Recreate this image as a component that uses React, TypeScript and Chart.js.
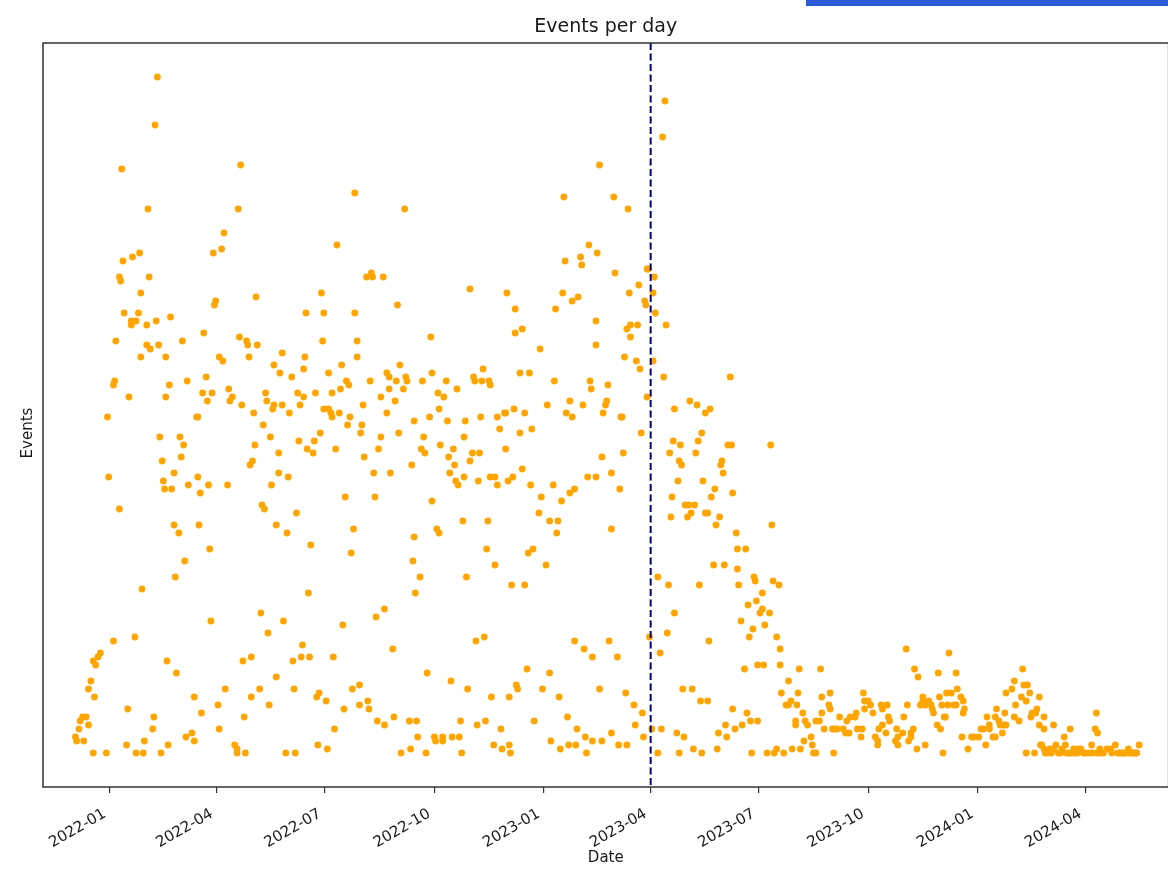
import React, { useEffect, useRef } from "react";
import { Chart, registerables } from "chart.js";

Chart.register(...registerables);

// x values are days since 2022-01-01
const tickDays = [0, 90, 181, 273, 365, 455, 546, 638, 730, 821];
const tickLabels = ["2022-01", "2022-04", "2022-07", "2022-10", "2023-01", "2023-04", "2023-07", "2023-10", "2024-01", "2024-04"];
const markerDay = 455; // 2023-04-01

const title = "Events per day";
const xTitle = "Date";
const yTitle = "Events";

// [day, events]
const late2021: [number, number][] = [
  [-2, 84], [-1, 69], [-8, 25], [-10, 24], [-14, 23], [-12, 22], [-16, 18], [-18, 16], [-13, 14], [-23, 9],
  [-20, 9], [-25, 8], [-18, 7], [-26, 6], [-29, 4], [-28, 3], [-22, 3], [-14, 0], [-3, 0],
];

const h1_2022: [number, number][] = [
  [40, 169], [38, 157], [10, 146], [32, 136], [96, 130], [87, 125], [94, 126], [11, 123], [19, 124], [25, 125],
  [8, 119], [9, 118], [33, 119], [26, 115], [89, 113], [88, 112], [12, 110], [24, 110], [18, 108], [18, 107],
  [22, 108], [31, 107], [39, 108], [51, 109], [79, 105], [5, 103], [61, 103], [31, 102], [34, 101], [41, 102],
  [26, 99], [47, 99], [92, 99], [95, 98], [4, 93], [3, 92], [50, 92], [65, 93], [81, 94], [16, 89],
  [47, 89], [78, 90], [86, 90], [82, 88], [73, 84], [74, 84], [42, 79], [59, 79], [62, 77], [44, 73],
  [60, 74], [45, 68], [54, 70], [46, 66], [52, 66], [66, 67], [74, 69], [83, 67], [76, 65], [8, 61],
  [54, 57], [75, 57], [58, 55], [84, 51], [63, 48], [55, 44], [27, 41], [85, 33], [21, 29], [3, 28],
  [48, 23], [56, 20], [97, 16], [71, 14], [91, 12], [15, 11], [77, 10], [37, 9], [36, 6], [92, 6],
  [69, 5], [64, 4], [71, 3], [14, 2], [29, 3], [49, 2], [22, 0], [28, 0], [43, 0],
  [110, 147], [108, 136], [123, 114], [178, 115], [165, 110], [180, 110], [109, 104], [115, 103], [116, 102], [124, 102],
  [117, 99], [179, 103], [145, 100], [138, 97], [143, 95], [153, 94], [164, 99], [163, 96], [100, 91], [103, 89],
  [101, 88], [111, 87], [131, 90], [132, 88], [138, 87], [137, 86], [145, 87], [151, 85], [158, 90], [160, 87],
  [163, 89], [173, 90], [121, 85], [180, 86], [129, 82], [135, 79], [122, 77], [142, 75], [159, 78], [166, 76],
  [171, 75], [172, 78], [177, 80], [118, 72], [120, 73], [99, 67], [142, 70], [136, 67], [150, 69], [128, 62],
  [130, 61], [140, 57], [157, 60], [149, 55], [169, 52], [167, 40], [127, 35], [146, 33], [133, 30], [162, 27],
  [112, 23], [119, 24], [154, 23], [161, 24], [168, 24], [140, 19], [126, 16], [155, 16], [174, 14], [176, 15],
  [119, 14], [134, 12], [113, 9], [105, 2], [107, 1], [107, 0], [114, 0], [148, 0], [156, 0], [175, 2],
];

const h2_2022: [number, number][] = [
  [206, 140], [248, 136], [191, 127], [220, 120], [216, 119], [221, 119], [230, 119], [242, 112], [206, 110], [208, 103],
  [208, 99], [184, 95], [195, 97], [244, 97], [233, 95], [235, 94], [241, 93], [235, 91], [247, 91], [249, 94],
  [250, 93], [219, 93], [187, 90], [194, 91], [199, 93], [201, 92], [184, 86], [186, 85], [193, 85], [187, 84],
  [202, 84], [200, 82], [213, 87], [228, 89], [240, 88], [233, 85], [212, 82], [211, 80], [190, 76], [214, 74],
  [228, 79], [226, 76], [243, 80], [222, 70], [236, 70], [198, 64], [223, 64], [205, 56], [203, 50], [196, 32],
  [224, 34], [231, 36], [238, 26], [188, 24], [204, 16], [210, 17], [182, 13], [210, 12], [217, 13], [218, 11],
  [197, 11], [189, 6], [225, 8], [231, 7], [239, 9], [252, 8], [183, 1], [245, 0], [253, 1],
  [303, 116], [334, 115], [341, 111], [341, 105], [347, 106], [270, 104], [362, 101], [271, 95], [263, 93], [283, 93],
  [306, 94], [314, 96], [313, 93], [307, 93], [319, 93], [320, 92], [292, 91], [345, 95], [353, 95], [276, 90],
  [281, 89], [277, 86], [256, 83], [269, 84], [284, 83], [299, 83], [312, 84], [326, 84], [332, 85], [333, 85],
  [340, 86], [349, 85], [264, 79], [298, 79], [328, 81], [345, 80], [355, 81], [262, 76], [265, 75], [278, 77],
  [289, 76], [285, 74], [303, 73], [305, 75], [311, 75], [333, 76], [254, 72], [290, 72], [286, 70], [298, 69],
  [320, 69], [324, 69], [335, 68], [339, 69], [347, 71], [291, 68], [293, 67], [310, 68], [326, 67], [354, 67],
  [271, 63], [363, 64], [361, 60], [297, 58], [318, 58], [275, 56], [277, 55], [256, 54], [255, 48], [317, 51],
  [324, 47], [352, 50], [356, 51], [261, 44], [257, 40], [300, 44], [338, 42], [349, 42], [308, 28], [315, 29],
  [267, 20], [287, 18], [301, 16], [351, 21], [342, 17], [343, 16], [364, 16], [321, 14], [336, 14], [295, 8],
  [309, 7], [316, 8], [357, 8], [258, 8], [329, 6], [259, 4], [273, 4], [280, 4], [288, 4], [294, 4],
  [274, 3], [280, 3], [323, 2], [336, 2], [266, 0], [296, 0], [330, 1], [337, 0],
];

const h1_2023: [number, number][] = [
  [382, 139], [403, 127], [396, 124], [397, 122], [383, 123], [381, 115], [389, 113], [394, 114], [375, 111], [374, 93],
  [404, 93], [405, 91], [387, 88], [384, 85], [389, 84], [398, 87], [368, 87], [373, 67], [380, 63], [387, 65],
  [391, 66], [402, 69], [370, 58], [377, 58], [376, 55], [367, 47], [391, 28], [399, 26], [406, 24], [370, 20],
  [378, 14], [385, 9], [393, 6], [371, 3], [400, 4], [406, 3], [379, 1], [386, 2], [392, 2], [401, 0],
  [467, 163], [465, 154], [412, 147], [424, 139], [436, 136], [410, 125], [425, 120], [452, 121], [453, 121], [458, 119],
  [437, 115], [445, 117], [457, 115], [450, 113], [451, 112], [459, 110], [409, 108], [435, 106], [438, 107], [444, 107],
  [438, 104], [468, 107], [409, 102], [433, 99], [443, 98], [446, 96], [457, 98], [466, 94], [522, 94], [419, 92],
  [418, 88], [417, 87], [415, 85], [452, 89], [475, 86], [488, 88], [494, 87], [501, 85], [505, 86], [430, 84],
  [431, 84], [447, 80], [474, 78], [498, 80], [414, 74], [432, 75], [471, 75], [480, 77], [495, 78], [493, 75],
  [520, 77], [523, 77], [479, 73], [481, 72], [515, 73], [514, 72], [516, 70], [409, 69], [422, 70], [429, 66],
  [478, 68], [499, 68], [509, 66], [473, 64], [506, 64], [484, 62], [487, 62], [492, 62], [486, 59], [489, 60],
  [472, 59], [501, 60], [503, 60], [513, 59], [510, 57], [524, 65], [422, 56], [527, 55], [528, 51], [535, 51],
  [508, 47], [517, 47], [528, 46], [461, 44], [470, 42], [496, 42], [529, 42], [542, 44], [543, 43], [544, 38],
  [537, 37], [475, 35], [531, 33], [541, 31], [538, 29], [454, 29], [504, 28], [420, 28], [469, 30], [463, 25],
  [427, 24], [534, 21], [545, 22], [412, 16], [482, 16], [490, 16], [497, 13], [503, 13], [434, 15], [441, 12],
  [448, 10], [442, 7], [524, 11], [536, 10], [518, 7], [539, 8], [545, 8], [532, 7], [526, 6], [512, 5],
  [519, 4], [422, 5], [456, 6], [464, 6], [477, 5], [414, 3], [449, 4], [483, 4], [428, 2], [435, 2],
  [491, 1], [461, 0], [479, 0], [498, 0], [511, 1], [540, 0],
];

const h2_2023: [number, number][] = [
  [556, 77], [557, 57], [558, 43], [563, 42], [549, 40], [547, 35], [549, 36], [555, 35], [551, 32], [561, 29],
  [564, 26], [550, 22], [564, 22], [565, 15], [553, 0], [559, 0], [561, 1],
  [571, 18], [580, 21], [598, 21], [579, 15], [569, 12], [571, 12], [573, 13], [578, 12], [583, 10], [577, 8],
  [577, 7], [585, 8], [587, 7], [594, 8], [597, 8], [599, 14], [606, 15], [599, 10], [605, 12], [606, 11],
  [614, 9], [601, 6], [608, 6], [610, 6], [612, 6], [617, 6], [619, 5], [622, 5], [620, 8], [623, 9],
  [627, 9], [628, 10], [629, 6], [633, 6], [632, 4], [634, 15], [635, 13], [635, 11], [638, 13], [640, 12],
  [642, 10], [644, 4], [647, 6], [650, 7], [649, 12], [650, 11], [654, 12], [655, 9], [656, 8], [653, 5],
  [646, 3], [646, 2], [662, 6], [663, 4], [661, 3], [663, 2], [667, 5], [668, 9], [671, 12], [670, 26],
  [677, 21], [680, 19], [674, 5], [674, 4], [676, 6], [672, 3], [679, 1], [684, 14], [684, 13], [682, 12],
  [686, 12], [689, 13], [691, 12], [692, 11], [693, 10], [697, 20], [698, 14], [700, 12], [702, 9], [703, 9],
  [696, 7], [699, 6], [704, 15], [705, 12], [708, 15], [710, 12], [712, 12], [706, 25], [712, 20], [713, 16],
  [716, 14], [718, 13], [718, 10], [719, 11], [717, 4], [686, 2], [701, 0], [567, 0], [574, 1], [581, 1],
  [584, 3], [590, 4], [591, 2], [592, 0], [594, 0], [609, 0], [722, 1], [725, 4], [727, 4],
];

const y2024: [number, number][] = [
  [731, 4], [733, 6], [735, 6], [737, 2], [738, 9], [740, 7], [740, 6], [743, 4], [745, 4], [746, 11],
  [745, 9], [748, 8], [749, 7], [752, 7], [754, 7], [751, 5], [753, 10], [754, 15], [759, 16], [761, 18],
  [762, 12], [761, 9], [765, 8], [768, 21], [767, 14], [769, 17], [772, 17], [771, 13], [774, 15], [775, 9],
  [776, 10], [780, 11], [782, 14], [779, 10], [782, 7], [786, 9], [786, 6], [794, 7], [771, 0], [778, 0],
  [783, 2], [784, 2], [786, 1], [787, 0], [791, 1], [794, 1], [796, 2], [798, 0], [801, 1], [803, 4],
  [804, 2], [805, 0], [808, 6], [811, 1], [814, 0], [815, 1], [817, 1], [819, 0], [824, 0], [826, 2],
  [829, 6], [831, 5], [830, 10], [831, 0], [833, 1], [836, 0], [839, 1], [842, 1], [846, 2], [848, 0],
  [852, 0], [855, 0], [858, 0], [860, 0], [862, 0], [864, 0], [866, 2], [789, 0], [792, 0], [800, 0],
  [807, 0], [809, 0], [812, 0], [821, 0], [827, 0], [834, 0], [843, 0], [850, 0], [853, 0], [857, 1],
  [863, 0],
];

const allPoints = [...late2021, ...h1_2022, ...h2_2022, ...h1_2023, ...h2_2023, ...y2024];

const FONT = '"DejaVu Sans", sans-serif';

const decorPlugin = {
  id: "decor",
  afterDatasetsDraw(chart: any) {
    const { ctx, chartArea: a, scales } = chart;
    const px = scales.x.getPixelForValue(markerDay);
    ctx.save();
    ctx.strokeStyle = "#000080";
    ctx.lineWidth = 2;
    ctx.setLineDash([7, 3.5]);
    ctx.beginPath();
    ctx.moveTo(px, a.top);
    ctx.lineTo(px, a.bottom);
    ctx.stroke();
    ctx.restore();
  },
  afterDraw(chart: any) {
    const { ctx, chartArea: a } = chart;
    ctx.save();
    ctx.strokeStyle = "#333";
    ctx.lineWidth = 1.5;
    ctx.strokeRect(a.left, a.top, a.right - a.left, a.bottom - a.top);
    ctx.fillStyle = "#1a1a1a";
    ctx.textAlign = "center";
    ctx.textBaseline = "middle";
    ctx.font = `19px ${FONT}`;
    ctx.fillText(title, (a.left + a.right) / 2, 27);
    ctx.font = `15px ${FONT}`;
    ctx.fillText(xTitle, (a.left + a.right) / 2, 858);
    ctx.translate(28, (a.top + a.bottom) / 2 + 18);
    ctx.rotate(-Math.PI / 2);
    ctx.fillText(yTitle, 0, 0);
    ctx.restore();
  },
};

export default function App() {
  const ref = useRef<HTMLCanvasElement | null>(null);
  useEffect(() => {
    if (!ref.current) return;
    const chart = new Chart(ref.current, {
      type: "scatter",
      data: {
        datasets: [
          {
            data: allPoints.map(([d, v]) => ({ x: d, y: v })),
            backgroundColor: "#ffa500",
            borderWidth: 0,
            pointRadius: 3.4,
            pointHoverRadius: 3.4,
          },
        ],
      },
      options: {
        animation: false,
        responsive: false,
        events: [],
        layout: { padding: { left: 0, right: 2, top: 43, bottom: 0 } },
        plugins: { legend: { display: false }, tooltip: { enabled: false }, title: { display: false } },
        scales: {
          x: {
            type: "linear",
            position: "bottom",
            min: -56.3,
            max: 890.8,
            grid: { display: true, drawOnChartArea: false, drawTicks: true, tickLength: 6, color: "#333", lineWidth: 1.2 },
            border: { display: false },
            ticks: {
              autoSkip: false,
              minRotation: 30,
              maxRotation: 30,
              padding: 12,
              labelOffset: -5,
              color: "#1a1a1a",
              font: { family: FONT, size: 15 },
              callback: (_v: any, i: number) => tickLabels[i] ?? "",
            },
            afterBuildTicks: (s: any) => {
              s.ticks = tickDays.map((v) => ({ value: v }));
            },
            afterFit: (s: any) => {
              s.height = 89;
            },
          },
          y: {
            type: "linear",
            min: -8.5,
            max: 177.5,
            grid: { display: false },
            border: { display: false },
            ticks: { display: false },
            afterFit: (s: any) => {
              s.width = 43;
            },
          },
        },
      },
      plugins: [decorPlugin],
    });
    return () => chart.destroy();
  }, []);

  return (
    <div style={{ position: "fixed", left: 0, top: 0, width: 1172, height: 876, background: "#fff", overflow: "hidden" }}>
      <canvas ref={ref} width={1172} height={876} style={{ width: 1172, height: 876, display: "block" }} />
      <div style={{ position: "absolute", left: 806, top: 0, width: 366, height: 6, background: "#2a5bd7" }} />
    </div>
  );
}
